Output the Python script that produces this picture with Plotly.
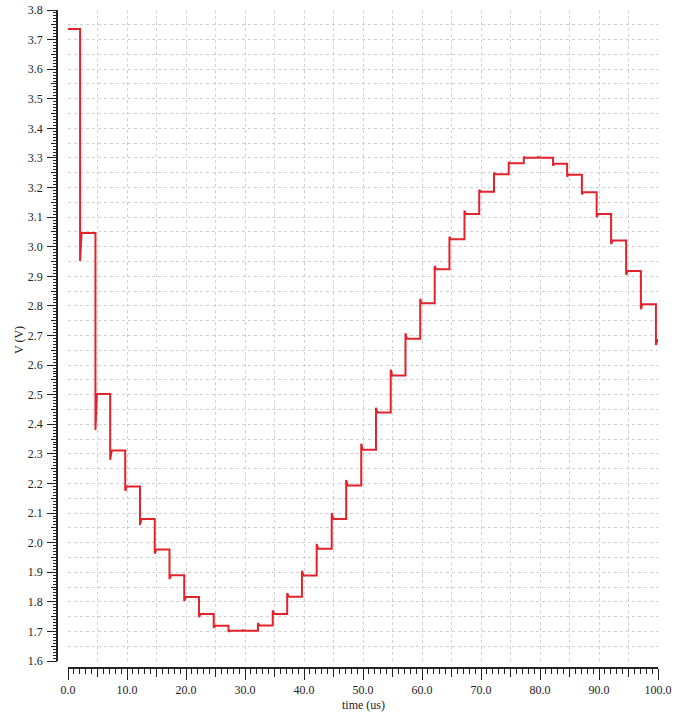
import plotly.graph_objects as go

# ---- data ----
initial_level = 3.736
step_times = [2.05, 4.65, 7.15, 9.7, 12.2, 14.7, 17.2, 19.7, 22.2, 24.7,
              27.2, 29.7, 32.2, 34.7, 37.15, 39.65, 42.15, 44.7, 47.15, 49.7,
              52.2, 54.7, 57.2, 59.7, 62.15, 64.65, 67.2, 69.7, 72.2, 74.7,
              77.25, 79.7, 82.2, 84.6, 87.1, 89.6, 92.05, 94.6, 97.1, 99.65]
step_levels = [3.046, 2.502, 2.311, 2.190, 2.080, 1.977, 1.890, 1.816, 1.759, 1.719,
               1.702, 1.702, 1.720, 1.759, 1.817, 1.889, 1.979, 2.080, 2.193, 2.314,
               2.440, 2.565, 2.689, 2.809, 2.924, 3.025, 3.111, 3.186, 3.245, 3.282,
               3.301, 3.301, 3.280, 3.243, 3.184, 3.111, 3.021, 2.918, 2.806, 2.685]
step_spikes = [2.952, 2.381, 2.280, 2.175, 2.060, 1.963, 1.877, 1.803, 1.748, 1.712,
               1.699, 1.704, 1.728, 1.771, 1.829, 1.905, 1.995, 2.100, 2.212, 2.334,
               2.456, 2.584, 2.708, 2.824, 2.935, 3.034, 3.122, 3.192, 3.250, 3.286,
               3.304, 3.303, 3.274, 3.237, 3.177, 3.100, 3.009, 2.905, 2.789, 2.668]
t_start, t_end = 0.0, 100.0
settle = 0.25

xs, ys = [t_start], [initial_level]
prev = initial_level
for t, lv, sp in zip(step_times, step_levels, step_spikes):
    xs += [t, t, t + settle]
    ys += [prev, sp, lv]
    prev = lv
xs.append(t_end)
ys.append(prev)

W, H = 683, 717
# pixel geometry
px_left, px_right = 68, 658
px_top, px_bottom = 10, 661
px_yaxis, px_xaxis = 57, 668

xdom = [px_left / W, px_right / W]
ydom = [1 - px_bottom / H, 1 - px_top / H]
ypos = px_yaxis / W
xpos = 1 - px_xaxis / H

font_main = dict(family="Liberation Serif, Times New Roman, serif", size=12, color="#222")
grid_major = "#b8b8b8"
grid_minor = "#d0d0d0"

fig = go.Figure()
fig.add_trace(go.Scatter(x=xs, y=ys, mode="lines",
                         line=dict(color="#e2222c", width=2),
                         hoverinfo="skip", showlegend=False))
# invisible copy to drive the overlay axes (medium ticks / half grid)
fig.add_trace(go.Scatter(x=xs, y=ys, mode="lines", xaxis="x2", yaxis="y2",
                         line=dict(color="rgba(0,0,0,0)", width=0),
                         hoverinfo="skip", showlegend=False))

fig.update_layout(
    width=W, height=H,
    margin=dict(l=0, r=0, t=0, b=0),
    paper_bgcolor="white", plot_bgcolor="white",
    font=font_main,
    xaxis=dict(domain=xdom, anchor="free", position=xpos, range=[0, 100],
               dtick=10, tick0=0, tickformat=".1f", ticks="outside", ticklen=11,
               tickcolor="#222", tickwidth=1.2, showline=True, linecolor="#222",
               linewidth=1.5, showgrid=True, gridcolor=grid_major, griddash="dot",
               gridwidth=1, zeroline=False, automargin=False,
               minor=dict(dtick=1, tick0=0, ticks="outside", ticklen=5,
                          tickcolor="#222", tickwidth=1, showgrid=False)),
    yaxis=dict(domain=ydom, anchor="free", position=ypos, range=[1.6, 3.8],
               dtick=0.1, tick0=1.6, tickformat=".1f", ticks="outside", ticklen=9,
               tickcolor="#222", tickwidth=1.2, showline=True, linecolor="#222",
               linewidth=1.5, showgrid=True, gridcolor=grid_major, griddash="dot",
               gridwidth=1, zeroline=False, automargin=False, ticklabelstandoff=2,
               minor=dict(dtick=0.01, tick0=1.6, ticks="outside", ticklen=3.5,
                          tickcolor="#222", tickwidth=1, showgrid=False)),
    xaxis2=dict(domain=xdom, anchor="free", position=xpos, overlaying="x",
                range=[0, 100], dtick=5, tick0=0, ticks="outside", ticklen=8,
                tickcolor="#222", tickwidth=1, showticklabels=False,
                showline=False, showgrid=True, gridcolor=grid_minor,
                griddash="dot", gridwidth=1, zeroline=False, automargin=False),
    yaxis2=dict(domain=ydom, anchor="free", position=ypos, overlaying="y",
                range=[1.6, 3.8], dtick=0.05, tick0=1.6, ticks="outside", ticklen=6,
                tickcolor="#222", tickwidth=1, showticklabels=False,
                showline=False, showgrid=True, gridcolor=grid_minor,
                griddash="dot", gridwidth=1, zeroline=False, automargin=False),
    annotations=[
        dict(text="time (us)", x=(xdom[0] + xdom[1]) / 2, y=1 - 705 / H,
             xref="paper", yref="paper", showarrow=False, font=font_main,
             xanchor="center", yanchor="middle"),
        dict(text="V (V)", x=19 / W, y=1 - 340 / H, xref="paper", yref="paper",
             showarrow=False, font=font_main, textangle=-90,
             xanchor="center", yanchor="middle"),
    ],
)

fig.write_html("out.html")
